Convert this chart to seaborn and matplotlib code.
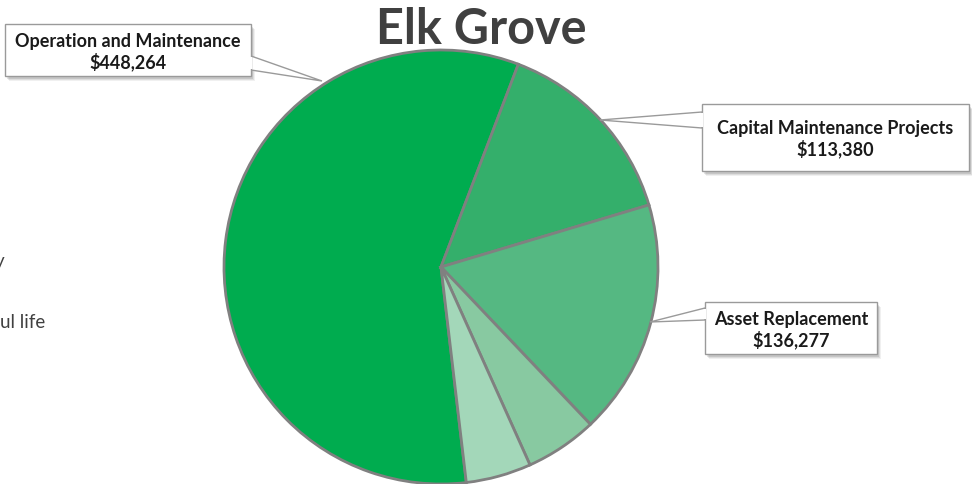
import matplotlib
matplotlib.use("Agg")
import matplotlib.pyplot as plt
import seaborn as sns
from matplotlib.patches import Polygon, Rectangle

# Budget breakdown (slices drawn clockwise, first slice starting near six o'clock)
categories = ["Operation and Maintenance", "Capital Maintenance Projects",
              "Asset Replacement", "", ""]
values = [448264, 113380, 136277, 41700, 37800]
show_label = [True, True, True, False, False]
colors = ["#00AC4F", "#34AF6B", "#55B882", "#88C9A1", "#A3D7B9"]

sns.set_theme(style="white")
plt.rcParams["font.family"] = ["Lato", "DejaVu Sans"]

W, H = 972, 485
fig = plt.figure(figsize=(W / 100, H / 100), dpi=100)
ax = fig.add_axes([0, 0, 1, 1])

cx, cy, r = 441, H - 268, 217
wedges, _ = ax.pie(values, colors=colors, startangle=276.7, counterclock=False,
                   center=(cx, cy), radius=r, frame=True,
                   wedgeprops=dict(edgecolor="#808080", linewidth=2))
ax.set_xlim(0, W)
ax.set_ylim(0, H)
ax.set_aspect("equal")
ax.axis("off")

ax.text(481, H - 29, "Elk Grove", ha="center", va="center", fontsize=35,
        fontweight="bold", color="#404040")

# Fragments of slide text at the left edge
ax.text(-5, H - 262, "y", ha="left", va="center", fontsize=13.5, color="#404040")
ax.text(0, H - 322, "ul life", ha="left", va="center", fontsize=13.5, color="#404040")


def callout(box, base, tip, text):
    x0, y0, x1, y1 = box  # pixel coords, y from top
    for k, a in ((5, 0.06), (4, 0.08), (3, 0.10)):
        ax.add_patch(Rectangle((x0 + k - 1, H - y1 - k), x1 - x0, y1 - y0,
                               facecolor="#000000", alpha=a, edgecolor="none",
                               zorder=4))
    ptr = Polygon([(base[0][0], H - base[0][1]), (tip[0], H - tip[1]),
                   (base[1][0], H - base[1][1])], closed=True,
                  facecolor="white", edgecolor="#9a9a9a", linewidth=1, zorder=5)
    ax.add_patch(ptr)
    rect = Rectangle((x0, H - y1), x1 - x0, y1 - y0, facecolor="white",
                     edgecolor="#9a9a9a", linewidth=1, zorder=6)
    ax.add_patch(rect)
    # open the box edge where the pointer joins it
    edge_x = x0 - 0.6 if base[0][0] <= x0 + 1 else x1 - 0.6
    ax.add_patch(Rectangle((edge_x, H - max(base[0][1], base[1][1]) + 0.8),
                           1.2, abs(base[1][1] - base[0][1]) - 1.6,
                           facecolor="white", edgecolor="none", zorder=7))
    ax.text((x0 + x1) / 2, H - (y0 + y1) / 2 - 1, text, ha="center", va="center",
            fontsize=13, fontweight="bold", color="#1a1a1a", linespacing=1.15,
            zorder=8)


boxes = [
    ((5, 25, 251, 77), [(251, 57), (251, 71)], (322, 82)),
    ((702, 105, 969, 172), [(702, 113), (702, 129)], (600, 121)),
    ((705, 303, 877, 355), [(705, 309), (705, 321)], (650, 323)),
]
labelled = [(c, v) for c, v, s in zip(categories, values, show_label) if s]
for (cat, val), (box, base, tip) in zip(labelled, boxes):
    callout(box, base, tip, f"{cat}\n${val:,}")

fig.savefig("out.png", dpi=100)
